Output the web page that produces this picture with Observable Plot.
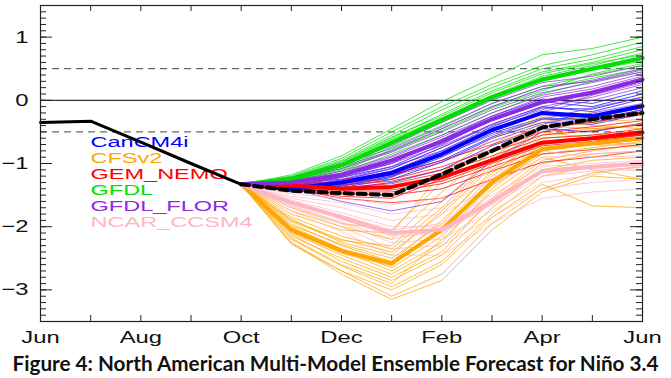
<!DOCTYPE html>
<html><head><meta charset="utf-8">
<script src="https://cdn.jsdelivr.net/npm/d3@7"></script>
<script src="https://cdn.jsdelivr.net/npm/@observablehq/plot@0.6"></script>
<style>
html,body{margin:0;padding:0;background:#fff;}
#chart svg{display:block;}
#cap{width:671px;height:28px;line-height:26px;text-align:center;white-space:nowrap;font-family:Lato,"Open Sans",sans-serif;font-weight:700;color:#111;}
</style></head>
<body><div id="chart"></div><div id="cap"></div>
<script>
// ---- axis / labels ----
const xTickPos = [0, 2, 4, 6, 8, 10, 12];
const xTickLabels = ["Jun", "Aug", "Oct", "Dec", "Feb", "Apr", "Jun"];
const yTickVals = [-3, -2, -1, 0, 1];
const captionText = "Figure 4: North American Multi-Model Ensemble Forecast for Niño 3.4";

// ---- observed (Jun..Oct) ----
const obsMonths = [0, 1, 2, 3, 4];
const observed = [-0.35, -0.33, -0.66, -1.00, -1.33];

// ---- forecast months (Oct..Jun) ----
const fcMonths = [4, 5, 6, 7, 8, 9, 10, 11, 12];

const models = ["CanCM4i", "CFSv2", "GEM_NEMO", "GFDL", "GFDL_FLOR", "NCAR_CCSM4"];
const modelColors = ["#0000ff", "#ffa500", "#ff0000", "#00e000", "#8a2be2", "#ffb6c1"];

// ensemble means
const canMean  = [-1.33, -1.40, -1.30, -1.15, -0.85, -0.47, -0.20, -0.25, -0.09];
const cfsMean  = [-1.33, -2.05, -2.38, -2.58, -2.05, -1.30, -0.77, -0.68, -0.60];
const gemMean  = [-1.33, -1.35, -1.40, -1.37, -1.22, -0.95, -0.67, -0.60, -0.51];
const gfdlMean = [-1.33, -1.25, -1.03, -0.67, -0.31, 0.05, 0.33, 0.50, 0.67];
const florMean = [-1.33, -1.30, -1.18, -0.95, -0.65, -0.30, -0.03, 0.12, 0.33];
const ncarMean = [-1.33, -1.62, -1.85, -2.10, -2.05, -1.60, -1.12, -1.05, -1.00];
const nmmeMean = [-1.33, -1.43, -1.47, -1.50, -1.17, -0.80, -0.43, -0.30, -0.20];

// ensemble members
const canMembers = [
  [-1.33,-1.36,-1.20,-1.00,-0.62,-0.25,0.02,-0.05,0.15],
  [-1.33,-1.42,-1.38,-1.25,-0.98,-0.60,-0.35,-0.38,-0.22],
  [-1.33,-1.38,-1.26,-1.08,-0.75,-0.38,-0.10,-0.18,0.02],
  [-1.33,-1.45,-1.40,-1.30,-1.10,-0.72,-0.45,-0.50,-0.36],
  [-1.33,-1.39,-1.28,-1.12,-0.80,-0.42,-0.12,-0.14,0.05],
  [-1.33,-1.43,-1.35,-1.20,-0.90,-0.52,-0.28,-0.30,-0.18],
  [-1.33,-1.37,-1.22,-1.05,-0.70,-0.30,-0.02,-0.10,0.10],
  [-1.33,-1.41,-1.33,-1.18,-0.95,-0.58,-0.30,-0.32,-0.15],
  [-1.33,-1.40,-1.30,-1.16,-0.84,-0.45,-0.22,-0.28,-0.12],
  [-1.33,-1.44,-1.36,-1.22,-0.86,-0.48,-0.20,-0.35,-0.20]
];
const cfsMembers = [
  [-1.33,-1.95,-2.30,-2.55,-1.90,-1.15,-0.60,-0.55,-0.50],
  [-1.33,-2.10,-2.45,-2.75,-2.30,-1.60,-1.00,-0.85,-0.80],
  [-1.33,-2.20,-2.62,-2.95,-2.55,-1.80,-1.20,-1.05,-1.00],
  [-1.33,-1.85,-2.15,-2.35,-1.70,-0.95,-0.45,-0.35,-0.30],
  [-1.33,-2.05,-2.40,-2.60,-2.05,-1.25,-0.70,-0.60,-0.55],
  [-1.33,-2.25,-2.75,-3.15,-2.85,-2.05,-1.45,-1.20,-1.25],
  [-1.33,-1.75,-2.00,-2.20,-1.45,-0.80,-0.35,-0.25,-0.22],
  [-1.33,-2.00,-2.35,-2.65,-2.15,-1.35,-0.85,-0.75,-0.65],
  [-1.33,-2.15,-2.50,-2.80,-2.40,-1.55,-0.95,-0.80,-0.70],
  [-1.33,-1.90,-2.20,-2.40,-1.80,-1.05,-0.55,-0.45,-0.38],
  [-1.33,-2.08,-2.42,-2.62,-2.00,-1.20,-0.65,-0.62,-0.60],
  [-1.33,-2.25,-2.70,-3.00,-2.60,-1.85,-1.33,-1.67,-1.70],
  [-1.33,-1.70,-1.95,-2.05,-1.30,-0.70,-0.30,-0.40,-0.45],
  [-1.33,-2.12,-2.55,-2.85,-2.45,-1.70,-1.10,-0.95,-0.90],
  [-1.33,-1.98,-2.28,-2.50,-1.95,-1.10,-0.75,-0.70,-0.68],
  [-1.33,-2.18,-2.60,-2.90,-2.20,-1.45,-0.90,-1.10,-1.25],
  [-1.33,-1.88,-2.25,-2.45,-1.75,-1.00,-0.50,-0.60,-0.75],
  [-1.33,-2.02,-2.38,-2.70,-2.25,-1.40,-0.80,-0.70,-0.58],
  [-1.33,-2.28,-2.70,-3.10,-2.75,-1.95,-1.40,-1.15,-1.05],
  [-1.33,-1.92,-2.22,-2.30,-1.60,-0.90,-0.40,-0.45,-0.40],
  [-1.33,-1.80,-2.05,-2.10,-1.15,-0.60,-0.25,-0.20,-0.25]
];
const gemMembers = [
  [-1.33,-1.30,-1.30,-1.25,-1.05,-0.78,-0.50,-0.42,-0.32],
  [-1.33,-1.38,-1.48,-1.50,-1.40,-1.12,-0.85,-0.78,-0.70],
  [-1.33,-1.34,-1.38,-1.32,-1.15,-0.88,-0.60,-0.55,-0.45],
  [-1.33,-1.40,-1.55,-1.62,-1.55,-1.25,-0.98,-0.90,-0.80],
  [-1.33,-1.32,-1.34,-1.28,-1.10,-0.82,-0.55,-0.48,-0.38],
  [-1.33,-1.36,-1.42,-1.42,-1.28,-1.00,-0.72,-0.65,-0.55],
  [-1.33,-1.28,-1.25,-1.18,-0.95,-0.70,-0.42,-0.35,-0.22],
  [-1.33,-1.37,-1.45,-1.45,-1.32,-1.05,-0.78,-0.70,-0.62],
  [-1.33,-1.35,-1.40,-1.38,-1.20,-0.95,-0.68,-0.62,-0.55],
  [-1.33,-1.39,-1.52,-1.55,-1.25,-0.92,-0.65,-0.58,-0.48]
];
const gfdlMembers = [
  [-1.33,-1.20,-0.92,-0.50,-0.10,0.25,0.55,0.72,0.92],
  [-1.33,-1.28,-1.10,-0.78,-0.45,-0.10,0.18,0.35,0.50],
  [-1.33,-1.22,-0.98,-0.60,-0.22,0.15,0.45,0.60,0.80],
  [-1.33,-1.30,-1.15,-0.85,-0.55,-0.20,0.10,0.30,0.45],
  [-1.33,-1.18,-0.88,-0.45,-0.02,0.35,0.72,0.82,1.00],
  [-1.33,-1.26,-1.05,-0.70,-0.35,0.02,0.30,0.48,0.62],
  [-1.33,-1.24,-1.00,-0.62,-0.28,0.08,0.38,0.55,0.75],
  [-1.33,-1.27,-1.08,-0.74,-0.40,-0.05,0.22,0.40,0.55],
  [-1.33,-1.21,-0.95,-0.55,-0.15,0.20,0.50,0.65,0.85],
  [-1.33,-1.29,-1.12,-0.80,-0.48,-0.12,0.15,0.42,0.58],
  [-1.33,-1.23,-0.97,-0.58,-0.25,0.12,0.42,0.58,0.72],
  [-1.33,-1.25,-1.02,-0.66,-0.30,0.06,0.35,0.52,0.68]
];
const florMembers = [
  [-1.33,-1.25,-1.05,-0.80,-0.45,-0.10,0.18,0.32,0.50],
  [-1.33,-1.35,-1.30,-1.12,-0.88,-0.55,-0.30,-0.12,0.05],
  [-1.33,-1.28,-1.12,-0.88,-0.55,-0.20,0.08,0.22,0.42],
  [-1.33,-1.40,-1.60,-1.75,-1.60,-0.95,-0.50,-0.30,-0.15],
  [-1.33,-1.22,-1.00,-0.72,-0.35,0.00,0.28,0.38,0.55],
  [-1.33,-1.32,-1.22,-1.00,-0.72,-0.38,-0.10,0.05,0.25],
  [-1.33,-1.30,-1.18,-0.95,-0.62,-0.28,0.00,0.15,0.35],
  [-1.33,-1.36,-1.35,-1.20,-0.98,-0.65,-0.38,-0.20,-0.05],
  [-1.33,-1.26,-1.08,-0.82,-0.50,-0.15,0.12,0.28,0.45],
  [-1.33,-1.33,-1.25,-1.05,-0.80,-0.45,-0.18,0.00,0.20],
  [-1.33,-1.29,-1.15,-0.90,-0.58,-0.25,0.05,0.18,0.38],
  [-1.33,-1.34,-1.28,-1.08,-0.75,-0.40,-0.15,0.08,0.28],
  [-1.33,-1.24,-1.02,-0.76,-0.42,-0.05,0.22,0.30,0.48],
  [-1.33,-1.31,-1.20,-0.98,-0.68,-0.32,-0.05,0.10,0.30]
];
const ncarMembers = [
  [-1.33,-1.55,-1.70,-1.90,-1.80,-1.35,-0.90,-0.85,-0.80],
  [-1.33,-1.70,-2.00,-2.35,-2.30,-1.85,-1.40,-1.30,-1.25],
  [-1.33,-1.60,-1.82,-2.05,-1.95,-1.50,-1.05,-1.00,-0.95],
  [-1.33,-1.48,-1.55,-1.65,-1.55,-1.10,-0.65,-0.72,-0.70],
  [-1.33,-1.75,-2.08,-2.45,-2.45,-1.95,-1.55,-1.45,-1.40],
  [-1.33,-1.62,-1.88,-2.15,-2.10,-1.65,-1.20,-1.12,-1.05],
  [-1.33,-1.58,-1.78,-2.00,-2.00,-1.55,-1.10,-1.05,-1.10],
  [-1.33,-1.66,-1.95,-2.25,-2.20,-1.75,-1.30,-1.18,-1.02],
  [-1.33,-1.52,-1.62,-1.80,-1.70,-1.25,-0.80,-0.90,-0.88],
  [-1.33,-1.68,-1.92,-2.20,-2.05,-1.60,-1.15,-1.08,-1.12]
];

const allMembers = [canMembers, cfsMembers, gemMembers, gfdlMembers, florMembers, ncarMembers];
const allMeans = [canMean, cfsMean, gemMean, gfdlMean, florMean, ncarMean];

// ---- build tables ----
const memberRows = allMembers.map((mem, mi) =>
  mem.flatMap((vals, k) => vals.map((v, j) => ({key: mi + "-" + k, x: fcMonths[j], y: v}))));
const meanRows = allMeans.map(vals => vals.map((v, j) => ({x: fcMonths[j], y: v})));
const nmmeRows = nmmeMean.map((v, j) => ({x: fcMonths[j], y: v}));
const obsRows = observed.map((v, j) => ({x: obsMonths[j], y: v}));

const W = 671, H = 350, mL = 40, mR = 29, mT = 5, mB = 29;
const plotW = W - mL - mR, plotH = H - mT - mB;
const yMinor = d3.range(-35, 16).map(d => d / 10);
const xMinor = d3.range(0, 13);
const font = "Liberation Sans, Arial, Helvetica, sans-serif";

const svg = Plot.plot({
  width: W, height: H,
  marginLeft: mL, marginRight: mR, marginTop: mT, marginBottom: mB,
  x: {domain: [0, 12], axis: null},
  y: {domain: [-3.5, 1.5], axis: null},
  style: {fontFamily: font, background: "#fff"},
  marks: [
    Plot.ruleY([0], {stroke: "#000", strokeWidth: 1}),
    Plot.ruleY([-0.5, 0.5], {stroke: "#444", strokeWidth: 1, strokeDasharray: "7,5"}),
    ...models.map((m, i) => Plot.text([m], {
      frameAnchor: "top-left", dx: 50, dy: 137 + 16 * i, lineAnchor: "middle",
      textAnchor: "start", fill: modelColors[i], fontSize: 14, fontFamily: font
    })),
    ...memberRows.map((rows, i) => Plot.line(rows, {
      x: "x", y: "y", z: "key", stroke: modelColors[i], strokeWidth: 0.8, strokeOpacity: 0.9
    })),
    ...meanRows.map((rows, i) => Plot.line(rows, {
      x: "x", y: "y", stroke: modelColors[i], strokeWidth: 4
    })),
    Plot.line(nmmeRows, {x: "x", y: "y", stroke: "#000", strokeWidth: 4, strokeDasharray: "8,5"}),
    Plot.line(obsRows, {x: "x", y: "y", stroke: "#000", strokeWidth: 3}),
    // inward ticks
    Plot.tickY(yMinor, {y: d => d, insetRight: plotW - 6, stroke: "#222"}),
    Plot.tickY(yTickVals, {y: d => d, insetRight: plotW - 12, stroke: "#222"}),
    Plot.tickY(yMinor, {y: d => d, insetLeft: plotW - 6, stroke: "#222"}),
    Plot.tickY(yTickVals, {y: d => d, insetLeft: plotW - 12, stroke: "#222"}),
    Plot.tickX(xMinor, {x: d => d, insetTop: plotH - 6, stroke: "#222"}),
    Plot.tickX(xMinor, {x: d => d, insetBottom: plotH - 6, stroke: "#222"}),
    Plot.frame({stroke: "#222", strokeWidth: 1.2}),
    // tick labels
    Plot.text(xTickLabels, {x: (d, i) => xTickPos[i], text: d => d, frameAnchor: "bottom",
      dy: 16, lineAnchor: "middle", fontSize: 17, fill: "#111", fontFamily: font}),
    Plot.text(yTickVals, {y: d => d, text: d => d < 0 ? "\u2212" + Math.abs(d) : String(d),
      frameAnchor: "left", dx: -12, textAnchor: "end", lineAnchor: "middle",
      fontSize: 17, fill: "#111", fontFamily: font})
  ]
});
document.getElementById("chart").appendChild(svg);

// horizontally stretch the IDL-like lettering (legend a bit more, being smaller)
svg.querySelectorAll("text").forEach(t => {
  const w = t.getComputedTextLength();
  if (w > 0) {
    const f = models.includes(t.textContent) ? 1.68 : 1.4;
    t.setAttribute("textLength", (w * f).toFixed(1));
    t.setAttribute("lengthAdjust", "spacingAndGlyphs");
  }
});

// caption sized to the reference width
const cap = document.getElementById("cap");
const span = document.createElement("span");
span.textContent = captionText;
span.style.fontSize = "20px";
cap.appendChild(span);
const cw = span.getBoundingClientRect().width;
span.style.fontSize = (20 * 646 / cw).toFixed(2) + "px";
</script>
</body></html>
